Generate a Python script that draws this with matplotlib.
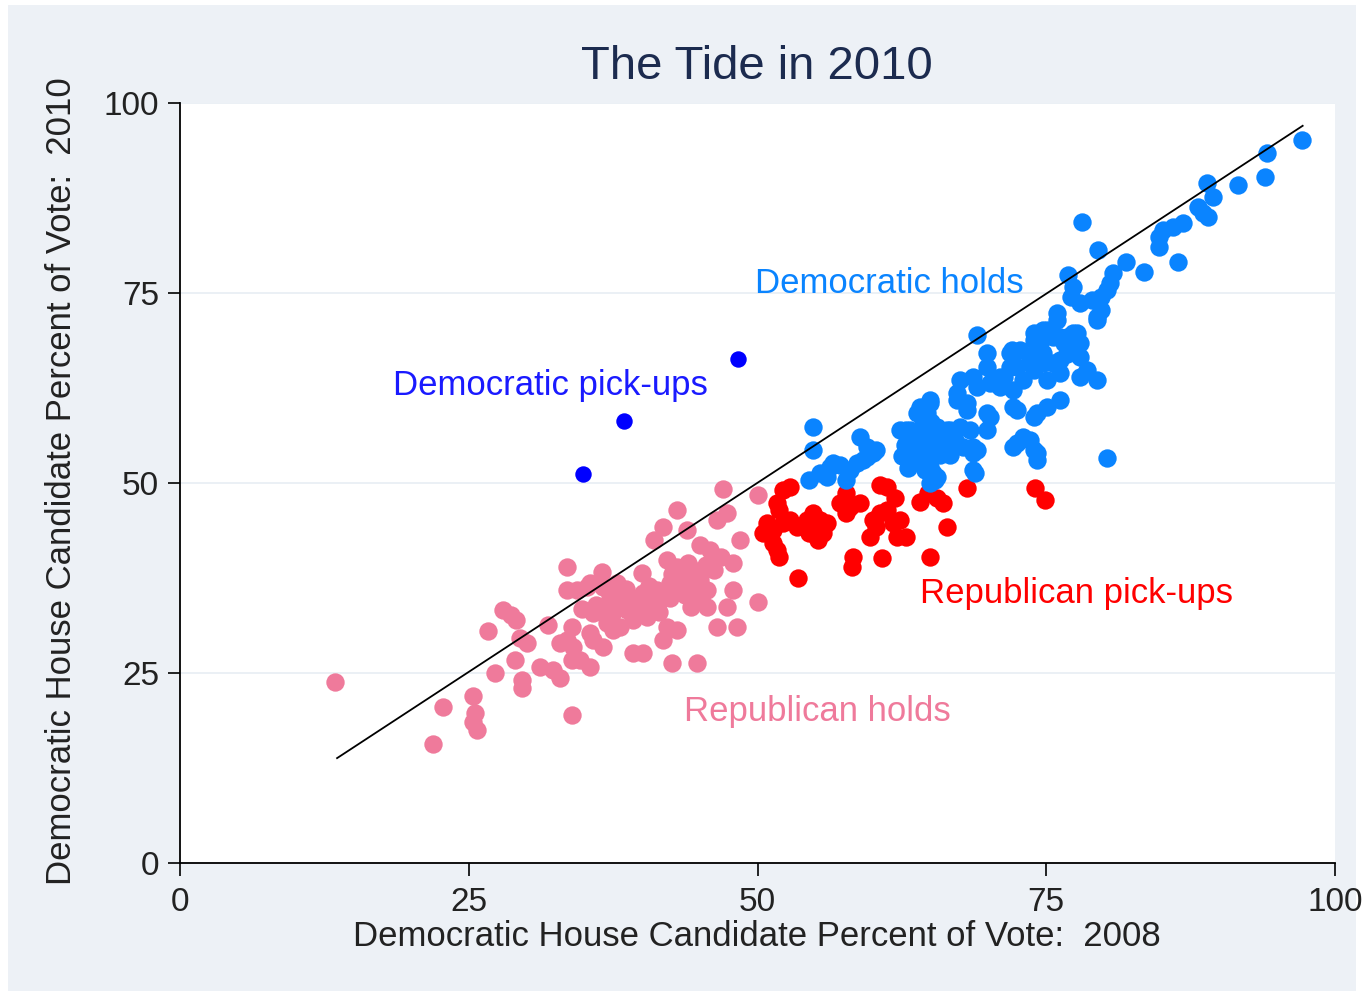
import matplotlib
matplotlib.use("Agg")
import matplotlib.pyplot as plt
from matplotlib.patches import Rectangle

plt.rcParams['font.family'] = ['Liberation Sans', 'DejaVu Sans']

# Datos (porcentaje demócrata 2008, 2010)
rep_holds_x = [13.4, 21.9, 22.8, 25.4, 25.5, 25.4, 25.7, 26.7, 27.3, 28.0, 28.7, 29.1,
               29.0, 29.6, 29.6, 29.4, 30.0, 31.2, 32.3, 32.9, 31.9, 33.5, 33.5, 34.4,
               33.9, 32.9, 33.5, 34.0, 33.9, 33.9, 47.0, 50.0, 43.0, 41.8, 41.0, 43.9,
               46.5, 47.4, 48.5, 45.9, 46.8, 47.9, 36.5, 40.0, 42.2, 43.0, 35.2, 35.5,
               36.6, 37.8, 36.6, 37.8, 39.0, 40.1, 41.3, 42.4, 43.3, 44.4, 45.0, 45.6,
               44.8, 44.2, 45.6, 35.8, 37.0, 38.1, 39.2, 40.4, 35.5, 42.2, 43.0, 41.8,
               50.0, 47.4, 46.5, 48.2, 39.2, 40.1, 42.6, 44.8, 34.6, 35.5, 35.8, 36.6,
               37.5, 38.7, 40.7, 41.6, 39.8, 43.7, 42.4, 45.0, 45.5, 47.9, 38.1, 37.2,
               38.6, 40.6, 42.6, 44.0, 39.5, 41.5, 36.0, 37.4, 43.0, 44.6, 46.2, 34.8]
rep_holds_y = [23.8, 15.7, 20.5, 22.0, 19.7, 18.6, 17.5, 30.5, 25.0, 33.3, 32.6, 32.0,
               26.7, 24.1, 23.0, 29.6, 28.9, 25.8, 25.4, 24.3, 31.3, 38.9, 35.9, 35.9,
               31.1, 28.9, 29.3, 28.4, 26.7, 19.5, 49.2, 48.4, 46.4, 44.2, 42.5, 43.8,
               45.1, 46.1, 42.5, 41.2, 40.3, 39.5, 38.3, 38.2, 39.9, 38.9, 36.3, 36.8,
               36.3, 36.8, 33.7, 34.2, 35.0, 35.5, 35.9, 36.8, 37.2, 38.6, 37.2, 35.9,
               34.6, 33.7, 33.7, 32.9, 31.6, 31.1, 32.0, 32.4, 30.3, 31.1, 30.7, 29.3,
               34.3, 33.7, 31.1, 31.1, 27.6, 27.6, 26.3, 26.3, 26.7, 25.8, 29.3, 28.4,
               30.7, 33.3, 33.9, 34.6, 33.0, 35.3, 34.9, 41.8, 39.2, 35.9, 34.6, 35.3,
               36.0, 36.5, 38.0, 39.5, 34.5, 33.0, 34.0, 32.8, 36.2, 36.8, 38.5, 33.4]

rep_pickups_x = [52.2, 52.8, 51.7, 51.9, 50.8, 50.5, 51.3, 52.2, 52.8, 51.3, 51.7, 51.9,
                 53.5, 54.3, 54.8, 55.4, 56.0, 55.2, 54.5, 55.7, 55.2, 53.4, 57.7, 57.1,
                 58.0, 58.9, 57.7, 58.3, 58.2, 60.6, 61.2, 61.9, 60.0, 60.6, 61.2, 59.7,
                 60.3, 61.7, 62.3, 62.1, 62.9, 60.8, 64.1, 64.8, 65.5, 66.1, 64.9, 66.4,
                 68.1, 74.0, 74.9]
rep_pickups_y = [49.1, 49.5, 47.4, 46.4, 44.7, 43.4, 43.8, 44.7, 45.1, 42.1, 41.2, 40.3,
                 37.5, 45.1, 46.1, 45.1, 44.7, 43.8, 43.4, 43.4, 42.5, 44.2, 48.7, 47.4,
                 46.8, 47.4, 46.1, 40.3, 38.9, 49.7, 49.5, 48.0, 45.1, 46.1, 46.4, 42.9,
                 44.2, 44.7, 45.1, 42.9, 42.9, 40.1, 47.5, 48.7, 48.0, 47.4, 40.3, 44.2,
                 49.3, 49.3, 47.8]

dem_holds_x = [54.8, 54.8, 54.5, 55.4, 56.3, 57.1, 58.0, 57.7, 58.9, 59.5, 60.0, 60.3,
               59.1, 64.1, 64.7, 62.9, 63.5, 64.3, 65.5, 66.4, 67.5, 68.4, 64.1, 64.9,
               65.5, 64.9, 68.7, 68.7, 68.1, 69.0, 64.9, 63.8, 63.2, 64.9, 65.8, 67.8,
               64.1, 69.0, 68.8, 67.5, 68.7, 67.3, 68.1, 69.9, 69.9, 71.9, 71.9, 70.1,
               71.0, 72.1, 73.0, 73.9, 74.7, 75.6, 76.2, 73.9, 75.1, 76.2, 77.3, 77.9,
               74.5, 76.5, 75.1, 76.2, 77.9, 78.5, 77.9, 79.4, 69.9, 69.9, 72.1, 72.5,
               73.9, 75.1, 76.2, 72.1, 73.0, 73.9, 74.2, 80.3, 79.4, 69.0, 71.3, 72.5,
               73.6, 74.7, 67.3, 64.9, 64.3, 66.7, 63.5, 64.7, 65.2, 68.7, 70.1, 74.2,
               72.5, 73.6, 74.2, 56.5, 58.6, 59.5, 56.0, 97.1, 94.1, 93.9, 91.6, 88.9,
               89.4, 88.1, 88.6, 89.0, 86.8, 86.0, 85.1, 84.8, 84.8, 86.4, 83.5, 81.9,
               80.8, 80.5, 80.3, 79.7, 79.0, 79.7, 79.4, 79.5, 78.1, 76.9, 77.3, 77.1,
               77.9, 75.9, 74.7, 73.9, 75.6, 76.8, 77.7, 72.0, 62.3, 62.8, 63.6, 64.5,
               65.4, 66.2, 67.1, 66.7, 65.8, 72.7, 75.9, 63.0, 64.5, 66.0, 65.0, 62.5,
               71.0, 74.0, 76.8]
dem_holds_y = [57.4, 54.3, 50.4, 51.3, 52.1, 52.4, 51.7, 50.4, 56.1, 54.7, 53.9, 54.3,
               53.0, 60.0, 59.2, 57.0, 55.7, 56.6, 57.4, 57.0, 57.4, 57.0, 53.0, 52.1,
               50.8, 50.0, 54.7, 51.7, 59.6, 69.5, 60.9, 59.2, 57.0, 56.1, 55.3, 54.7,
               53.9, 54.3, 51.3, 63.6, 63.9, 61.8, 60.5, 67.1, 65.3, 67.1, 65.3, 63.2,
               62.6, 62.2, 63.6, 64.9, 65.8, 65.8, 66.2, 69.7, 70.1, 69.2, 69.7, 68.4,
               68.4, 68.4, 63.6, 64.5, 66.6, 64.9, 63.9, 63.6, 59.2, 57.0, 60.0, 59.6,
               58.7, 60.0, 60.9, 54.7, 56.1, 54.3, 53.0, 53.3, 71.4, 62.6, 63.9, 65.3,
               66.2, 67.1, 60.9, 60.5, 58.3, 57.0, 54.7, 53.9, 51.3, 53.9, 58.7, 59.2,
               55.3, 55.7, 53.9, 52.6, 52.6, 53.4, 50.8, 95.1, 93.4, 90.3, 89.2, 89.5,
               87.6, 86.3, 85.5, 85.0, 84.2, 83.7, 83.3, 82.4, 81.1, 79.1, 77.8, 79.1,
               77.6, 76.3, 75.4, 74.5, 74.1, 72.8, 71.8, 80.7, 84.3, 77.4, 75.8, 74.5,
               73.7, 72.4, 70.1, 68.8, 69.2, 69.2, 69.7, 67.5, 57.0, 55.0, 53.0, 51.7,
               50.4, 55.7, 55.7, 53.7, 53.7, 67.5, 71.4, 52.0, 55.0, 54.5, 58.0, 53.5,
               64.0, 67.0, 67.0]

dem_pickups_x = [34.9, 38.4, 48.3]
dem_pickups_y = [51.2, 58.2, 66.3]

# Linea de ajuste
fit_x = [13.6, 97.2]
fit_y = [13.8, 97.0]

ticks = [0, 25, 50, 75, 100]

# Colores
BG = '#edf1f6'
PINK = '#ef7a9b'
RED = '#ff0000'
LBLUE = '#0a84ff'
DBLUE = '#0000ff'

fig = plt.figure(figsize=(13.62, 9.91), dpi=100)
fig.patch.set_facecolor('white')
fig.patches.append(Rectangle((8 / 1362, 0), 1348 / 1362, 986 / 991,
                             transform=fig.transFigure, facecolor=BG,
                             edgecolor='none', zorder=-10))

ax = fig.add_axes([180 / 1362, 128 / 991, 1155 / 1362, 760 / 991])
ax.set_facecolor('white')

ms = 175
ax.scatter(rep_holds_x, rep_holds_y, s=ms, color=PINK, linewidths=0, zorder=2)
ax.scatter(rep_pickups_x, rep_pickups_y, s=ms, color=RED, linewidths=0, zorder=2)
ax.scatter(dem_holds_x, dem_holds_y, s=ms, color=LBLUE, linewidths=0, zorder=2)
ax.scatter(dem_pickups_x, dem_pickups_y, s=ms * 0.8, color=DBLUE, linewidths=0, zorder=2)
ax.plot(fit_x, fit_y, color='black', lw=1.3, zorder=3)

ax.set_xlim(0, 100)
ax.set_ylim(0, 100)
ax.set_xticks(ticks)
ax.set_yticks(ticks)
ax.tick_params(axis='both', labelsize=24, length=9, width=1.2, color='black',
               labelcolor='#222222')
ax.tick_params(axis='x', pad=8)
ax.tick_params(axis='y', pad=6)
ax.yaxis.grid(True, color='#e8eef4', lw=1.2)
ax.set_axisbelow(True)

for side in ['top', 'right']:
    ax.spines[side].set_visible(False)
for side in ['left', 'bottom']:
    ax.spines[side].set_linewidth(1.3)
    ax.spines[side].set_color('black')

# Etiquetas de grupos
ax.text(49.8, 76.3, 'Democratic holds', color=LBLUE, fontsize=25, va='center', ha='left')
ax.text(18.4, 62.8, 'Democratic pick-ups', color='#1a1aff', fontsize=25, va='center', ha='left')
ax.text(64.1, 35.5, 'Republican pick-ups', color=RED, fontsize=25, va='center', ha='left')
ax.text(43.6, 19.9, 'Republican holds', color=PINK, fontsize=25, va='center', ha='left')

fig.text(757 / 1362, 1 - 67 / 991, 'The Tide in 2010', color='#1c2b4f',
         fontsize=34, ha='center', va='center')
fig.text(757 / 1362, 1 - 936 / 991, 'Democratic House Candidate Percent of Vote:  2008',
         fontsize=25, color='#222222', ha='center', va='center')
fig.text(62 / 1362, 1 - 481 / 991, 'Democratic House Candidate Percent of Vote:  2010',
         fontsize=25, color='#222222', ha='center', va='center', rotation=90)

fig.savefig('out.png', dpi=100, facecolor=fig.get_facecolor())
